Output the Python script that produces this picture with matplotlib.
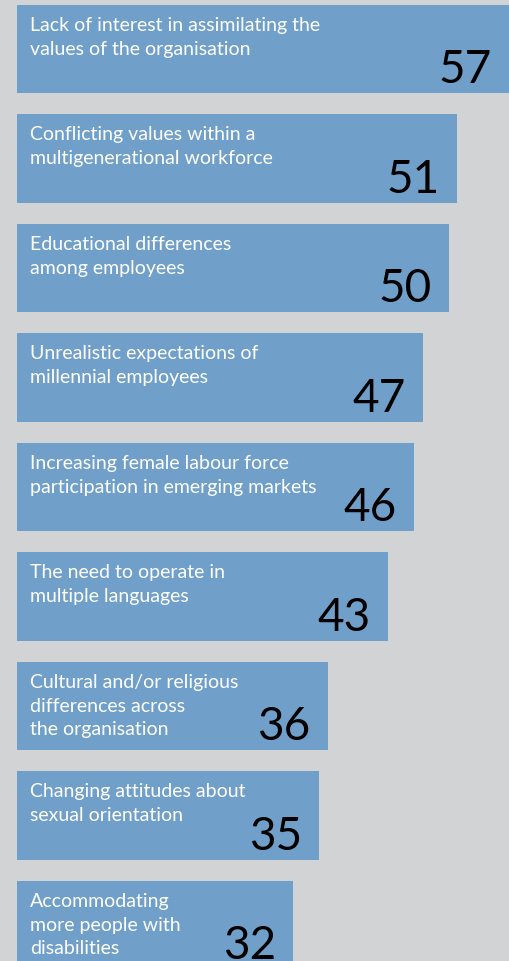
import matplotlib
matplotlib.use("Agg")
from matplotlib import pyplot as plt

labels = [
    "Lack of interest in assimilating the\nvalues of the organisation",
    "Conflicting values within a\nmultigenerational workforce",
    "Educational differences\namong employees",
    "Unrealistic expectations of\nmillennial employees",
    "Increasing female labour force\nparticipation in emerging markets",
    "The need to operate in\nmultiple languages",
    "Cultural and/or religious\ndifferences across\nthe organisation",
    "Changing attitudes about\nsexual orientation",
    "Accommodating\nmore people with\ndisabilities",
]
values = [57, 51, 50, 47, 46, 43, 36, 35, 32]

bg = "#d2d3d5"
bar_color = "#70a0ca"
font = ["Lato", "DejaVu Sans"]

fig = plt.figure(figsize=(5.09, 9.61), dpi=100, facecolor=bg)
ax = fig.add_axes([0, 0, 1, 1])
ax.set_facecolor(bg)

pos = list(range(len(values)))
ax.barh(pos, values, height=0.804, color=bar_color, align="center")

# pixel scale: 8.63 px per unit, bar origin at x=17px; pitch 109.5 px
ax.set_xlim(-17 / 8.63, 492 / 8.63)
ax.set_ylim((961 - 49) / 109.5, -49 / 109.5)
ax.axis("off")

half = 0.804 / 2
for i, (lab, v) in enumerate(zip(labels, values)):
    ax.annotate(lab, xy=(0, i - half), xytext=(13, -12), textcoords="offset pixels",
                ha="left", va="top", color="white", fontsize=14,
                family=font, linespacing=1.48, annotation_clip=False)
    ax.annotate(str(v), xy=(v, i + half), xytext=(-17, 10), textcoords="offset pixels",
                ha="right", va="baseline", color="black", fontsize=33,
                family=font, annotation_clip=False)

fig.savefig("out.png", dpi=100, facecolor=bg)
